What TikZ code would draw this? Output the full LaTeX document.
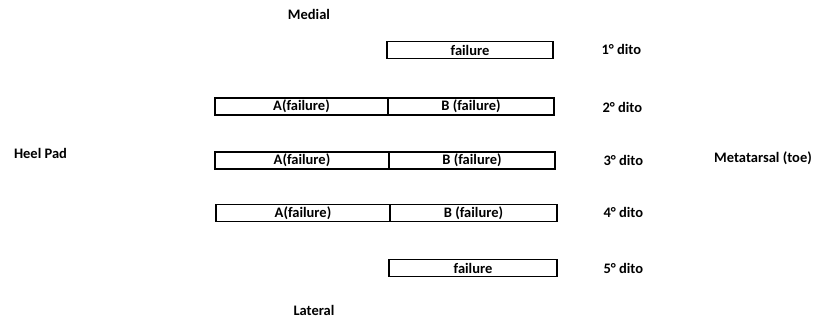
\documentclass[tikz,border=0pt]{standalone}
\usepackage{fontspec}
\setmainfont{Carlito}
\begin{document}
\begin{tikzpicture}[x=1pt,y=-1pt,font=\bfseries\fontsize{14.5}{17}\selectfont]
\tikzset{seg/.style={draw, line width=1.3pt, minimum height=17pt, inner sep=0pt}}
\useasboundingbox (0,0) rectangle (816,322);
\node (medial) at (309,14) {Medial};
\node (lateral) at (314,310) {Lateral};
\node (heel) at (40.5,153) {Heel Pad};
\node (toe) at (763,158.5) {Metatarsal (toe)};
% row 1
\node[seg, minimum width=166pt] (b1) at (470,50) {failure};
\node[anchor=west] (d1) at (598,49.5) {1° dito};
% row 2
\node[seg, minimum width=173pt] (a2) at (301.5,106.5) {A(failure)};
\node[seg, minimum width=166pt] (b2) at (471,106.5) {B (failure)};
\node[anchor=west] (d2) at (599,107.5) {2° dito};
% row 3
\node[seg, minimum width=174pt] (a3) at (302,160.5) {A(failure)};
\node[seg, minimum width=166pt] (b3) at (472,160.5) {B (failure)};
\node[anchor=west] (d3) at (600,160.5) {3° dito};
% row 4
\node[seg, minimum width=174pt] (a4) at (303,213) {A(failure)};
\node[seg, minimum width=167pt] (b4) at (473.5,213) {B (failure)};
\node[anchor=west] (d4) at (600,212.5) {4° dito};
% row 5
\node[seg, minimum width=168pt] (b5) at (473,268) {failure};
\node[anchor=west] (d5) at (600,268.5) {5° dito};
\end{tikzpicture}
\end{document}
